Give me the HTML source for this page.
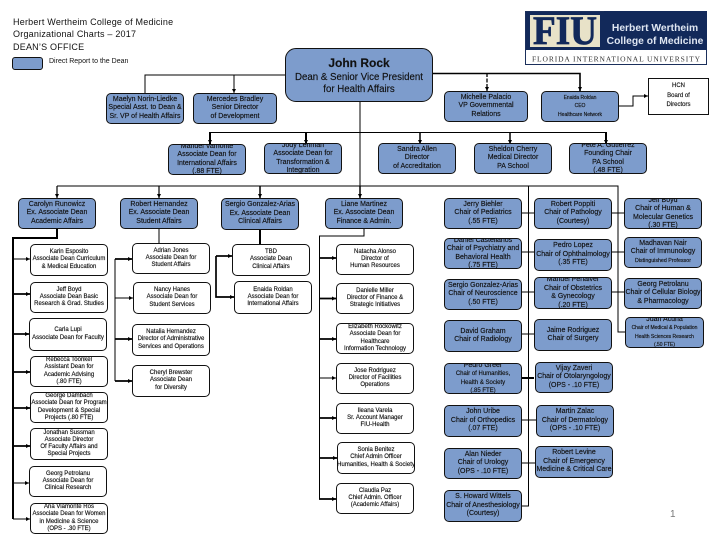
<!DOCTYPE html>
<html lang="en"><head><meta charset="utf-8"><title>Organizational Chart</title>
<style>
html,body{margin:0;padding:0;background:#fff}
#p{position:relative;width:720px;height:540px;overflow:hidden;background:#fff;font-family:"Liberation Sans",sans-serif;color:#111}
svg{position:absolute;left:0;top:0}
.b,.w{position:absolute;box-sizing:border-box;border:1px solid #111;border-radius:5px;display:flex;align-items:center;justify-content:center;text-align:center;overflow:hidden;white-space:nowrap;-webkit-text-stroke:.15px #111}
.b{background:#7d9ccc;font-size:7px;line-height:8.5px}
.w{background:#fff;font-size:6px;line-height:7.1px}
.t{position:absolute;white-space:nowrap}
.s{font-size:5px}
</style></head><body><div id="p">
<div class="t" style="left:13px;top:16px;font-size:9px;line-height:12.3px;letter-spacing:.22px">Herbert Wertheim College of Medicine<br>Organizational Charts – 2017<br>DEAN’S OFFICE</div>
<div class="b" style="left:12px;top:57px;width:31px;height:13px;border-radius:3px"></div>
<div class="t" style="left:49px;top:57px;font-size:7px;line-height:9px">Direct Report to the Dean</div>

<svg width="720" height="540" viewBox="0 0 720 540" fill="none" stroke="#000" stroke-width="1">
<defs><marker id="a" markerUnits="userSpaceOnUse" markerWidth="4" markerHeight="4" refX="4" refY="2" orient="auto"><path d="M0 0L4 2L0 4Z" fill="#000" stroke="none"/></marker></defs>
<path d="M285 75H145V93"/>
<path d="M234 75V93" marker-end="url(#a)"/>
<path d="M432 73.500H580V91" stroke-width="1.600" marker-end="url(#a)"/>
<path d="M487 73V91" stroke-width="1.300" stroke-dasharray="4 1.500" marker-end="url(#a)"/>
<path d="M618 106H633V96H648" marker-end="url(#a)"/>
<path d="M360 102V186"/>
<path d="M210 132.500H606"/>
<path d="M210 132V144" stroke-width="2" marker-end="url(#a)"/>
<path d="M306 132V144" stroke-width="2" marker-end="url(#a)"/>
<path d="M606 132V144" stroke-width="2" marker-end="url(#a)"/>
<path d="M420 132V144" stroke-width="1.500" marker-end="url(#a)"/>
<path d="M510 132V144" stroke-width="1.500" marker-end="url(#a)"/>
<path d="M57 186H618V332H625"/>
<path d="M57 186V198" stroke-width="1.200" marker-end="url(#a)"/>
<path d="M159 186V198" stroke-width="1.200" marker-end="url(#a)"/>
<path d="M260 186V198" stroke-width="1.500" marker-end="url(#a)"/>
<path d="M360 186V198" stroke-width="1.500" marker-end="url(#a)"/>
<path d="M57 228V238H13V519" stroke-width="2"/>
<path d="M13 259H30" marker-end="url(#a)"/>
<path d="M13 294H30" stroke-width="1.700" marker-end="url(#a)"/>
<path d="M13 334H29" stroke-width="1.700" marker-end="url(#a)"/>
<path d="M13 372H30" stroke-width="1.700" marker-end="url(#a)"/>
<path d="M13 408H30" stroke-width="1.700" marker-end="url(#a)"/>
<path d="M13 446H30" stroke-width="1.700" marker-end="url(#a)"/>
<path d="M13 483H29" marker-end="url(#a)"/>
<path d="M13 519H30" marker-end="url(#a)"/>
<path d="M159 228V243"/>
<path d="M115 259V381"/>
<path d="M115 259H132" stroke-width="1.700" marker-end="url(#a)"/>
<path d="M115 298H133" marker-end="url(#a)"/>
<path d="M115 339H132" stroke-width="1.700" marker-end="url(#a)"/>
<path d="M115 381H132" stroke-width="1.700" marker-end="url(#a)"/>
<path d="M260 229V244" stroke-width="2"/>
<path d="M216 256H232" stroke-width="1.700" marker-end="url(#a)"/>
<path d="M216 256V297H234" stroke-width="1.700" marker-end="url(#a)"/>
<path d="M364 228V236H319.500V499"/>
<path d="M319 258H336" stroke-width="1.700" marker-end="url(#a)"/>
<path d="M319 298.500H336" stroke-width="1.700" marker-end="url(#a)"/>
<path d="M319 339H336" stroke-width="1.700" marker-end="url(#a)"/>
<path d="M319 378H336" marker-end="url(#a)"/>
<path d="M319 418H336" stroke-width="1.700" marker-end="url(#a)"/>
<path d="M319 458H337" stroke-width="1.700" marker-end="url(#a)"/>
<path d="M319 499H336" stroke-width="1.700" marker-end="url(#a)"/>
<path d="M528.500 186V506H521"/>
<path d="M521 213H534M521 252H534M521 292H534M521 334H534M521 420H536M521 463H535"/>
<path d="M521 378H534" stroke-width="2"/>
<path d="M611 213H624M611 252H624M611 292H624"/>
</svg>

<div class="b" style="left:285px;top:48px;width:148px;height:54px;border-radius:11px;font-size:9.700px;line-height:12.500px;align-items:flex-start;padding-top:7px"><span><b style="font-size:12px;line-height:14px">John Rock</b><br>Dean &amp; Senior Vice President<br>for Health Affairs</span></div>

<div class="b" style="left:106px;top:93px;width:78px;height:31px">Maelyn Norin-Liedke<br>Special Asst. to Dean &amp;<br>Sr. VP of Health Affairs</div>
<div class="b" style="left:193px;top:93px;width:84px;height:31px">Mercedes Bradley<br>Senior Director<br>of Development</div>
<div class="b" style="left:444px;top:91px;width:84px;height:31px">Michelle Palacio<br>VP Governmental<br>Relations</div>
<div class="b s" style="left:541px;top:91px;width:78px;height:31px;line-height:8.500px">Enaida Roldan<br>CEO<br>Healthcare Network</div>
<div class="w" style="left:648px;top:78px;width:61px;height:37px;border-radius:0;line-height:9.500px">HCN<br>Board of<br>Directors</div>

<div class="b" style="left:168px;top:144px;width:78px;height:31px">Manuel Vamonte<br>Associate Dean for<br>International Affairs<br>(.88 FTE)</div>
<div class="b" style="left:264px;top:143px;width:78px;height:31px">Jody Lehman<br>Associate Dean for<br>Transformation &amp;<br>Integration</div>
<div class="b" style="left:378px;top:143px;width:78px;height:31px">Sandra Allen<br>Director<br>of Accreditation</div>
<div class="b" style="left:474px;top:143px;width:78px;height:31px">Sheldon Cherry<br>Medical Director<br>PA School</div>
<div class="b" style="left:569px;top:143px;width:78px;height:31px">Pete A. Gutierrez<br>Founding Chair<br>PA School<br>(.48 FTE)</div>

<div class="b" style="left:18px;top:198px;width:78px;height:31px">Carolyn Runowicz<br>Ex. Associate Dean<br>Academic Affairs</div>
<div class="b" style="left:120px;top:198px;width:78px;height:31px">Robert Hernandez<br>Ex. Associate Dean<br>Student Affairs</div>
<div class="b" style="left:221px;top:198px;width:78px;height:32px">Sergio Gonzalez-Arias<br>Ex. Associate Dean<br>Clinical Affairs</div>
<div class="b" style="left:325px;top:198px;width:78px;height:31px">Liane Martinez<br>Ex. Associate Dean<br>Finance &amp; Admin.</div>

<div class="w" style="left:30px;top:244px;width:78px;height:32px">Karin Esposito<br>Associate Dean Curriculum<br>&amp; Medical Education</div>
<div class="w" style="left:30px;top:282px;width:78px;height:31px">Jeff Boyd<br>Associate Dean Basic<br>Research &amp; Grad. Studies</div>
<div class="w" style="left:29px;top:318px;width:78px;height:33px">Carla Lupi<br>Associate Dean for Faculty</div>
<div class="w" style="left:30px;top:356px;width:78px;height:31px">Rebecca Toonkel<br>Assistant Dean for<br>Academic Advising<br>(.80 FTE)</div>
<div class="w" style="left:30px;top:392px;width:78px;height:31px">George Dambach<br>Associate Dean for Program<br>Development &amp; Special<br>Projects (.80 FTE)</div>
<div class="w" style="left:30px;top:428px;width:78px;height:32px">Jonathan Sussman<br>Associate Director<br>Of Faculty Affairs and<br>Special Projects</div>
<div class="w" style="left:29px;top:466px;width:78px;height:31px">Georg Petrolanu<br>Associate Dean for<br>Clinical Research</div>
<div class="w" style="left:30px;top:503px;width:78px;height:31px">Ana Viamonte Ros<br>Associate Dean for Women<br>in Medicine &amp; Science<br>(OPS - .30 FTE)</div>

<div class="w" style="left:132px;top:243px;width:78px;height:31px">Adrian Jones<br>Associate Dean for<br>Student Affairs</div>
<div class="w" style="left:133px;top:282px;width:78px;height:32px">Nancy Hanes<br>Associate Dean for<br>Student Services</div>
<div class="w" style="left:132px;top:324px;width:78px;height:32px">Natalia Hernandez<br>Director of Administrative<br>Services and Operations</div>
<div class="w" style="left:132px;top:365px;width:78px;height:32px">Cheryl Brewster<br>Associate Dean<br>for Diversity</div>

<div class="w" style="left:232px;top:244px;width:78px;height:32px">TBD<br>Associate Dean<br>Clinical Affairs</div>
<div class="w" style="left:234px;top:281px;width:78px;height:33px">Enaida Roldan<br>Associate Dean for<br>International Affairs</div>

<div class="w" style="left:336px;top:244px;width:78px;height:31px">Natacha Alonso<br>Director of<br>Human Resources</div>
<div class="w" style="left:336px;top:283px;width:78px;height:31px">Danielle Miller<br>Director of Finance &amp;<br>Strategic Initiatives</div>
<div class="w" style="left:336px;top:323px;width:78px;height:31px">Elizabeth Rockowitz<br>Associate Dean for<br>Healthcare<br>Information Technology</div>
<div class="w" style="left:336px;top:363px;width:78px;height:31px">Jose Rodriguez<br>Director of Facilities<br>Operations</div>
<div class="w" style="left:336px;top:403px;width:78px;height:31px">Ileana Varela<br>Sr. Account Manager<br>FIU-Health</div>
<div class="w" style="left:337px;top:442px;width:78px;height:32px">Sonia Benitez<br>Chief Admin Officer<br>(Humanities, Health &amp; Society)</div>
<div class="w" style="left:336px;top:483px;width:78px;height:31px">Claudia Paz<br>Chief Admin. Officer<br>(Academic Affairs)</div>

<div class="b" style="left:444px;top:198px;width:78px;height:31px">Jerry Biehler<br>Chair of Pediatrics<br>(.55 FTE)</div>
<div class="b" style="left:444px;top:238px;width:78px;height:31px">Daniel Castellanos<br>Chair of Psychiatry and<br>Behavioral Health<br>(.75 FTE)</div>
<div class="b" style="left:444px;top:279px;width:78px;height:31px">Sergio Gonzalez-Arias<br>Chair of Neuroscience<br>(.50 FTE)</div>
<div class="b" style="left:444px;top:320px;width:78px;height:32px">David Graham<br>Chair of Radiology</div>
<div class="b" style="left:444px;top:363px;width:78px;height:31px"><span>Pedro Greer<br><span style="font-size:6px">Chair of Humanities,<br>Health &amp; Society</span><br><span style="font-size:6px">(.85 FTE)</span></span></div>
<div class="b" style="left:444px;top:405px;width:78px;height:32px">John Uribe<br>Chair of Orthopedics<br>(.07 FTE)</div>
<div class="b" style="left:444px;top:448px;width:78px;height:31px">Alan Nieder<br>Chair of Urology<br>(OPS - .10 FTE)</div>
<div class="b" style="left:444px;top:490px;width:78px;height:32px">S. Howard Wittels<br>Chair of Anesthesiology<br>(Courtesy)</div>

<div class="b" style="left:534px;top:198px;width:78px;height:31px">Robert Poppiti<br>Chair of Pathology<br>(Courtesy)</div>
<div class="b" style="left:534px;top:239px;width:78px;height:32px">Pedro Lopez<br>Chair of Ophthalmology<br>(.35 FTE)</div>
<div class="b" style="left:534px;top:277px;width:78px;height:32px">Manuel Penalver<br>Chair of Obstetrics<br>&amp; Gynecology<br>(.20 FTE)</div>
<div class="b" style="left:534px;top:319px;width:78px;height:32px">Jaime Rodriguez<br>Chair of Surgery</div>
<div class="b" style="left:535px;top:362px;width:78px;height:31px">Vijay Zaveri<br>Chair of Otolaryngology<br>(OPS - .10 FTE)</div>
<div class="b" style="left:536px;top:405px;width:78px;height:32px">Martin Zalac<br>Chair of Dermatology<br>(OPS - .10 FTE)</div>
<div class="b" style="left:535px;top:446px;width:78px;height:32px">Robert Levine<br>Chair of Emergency<br>Medicine &amp; Critical Care</div>

<div class="b" style="left:624px;top:198px;width:78px;height:31px">Jeff Boyd<br>Chair of Human &amp;<br>Molecular Genetics<br>(.30 FTE)</div>
<div class="b" style="left:624px;top:237px;width:78px;height:31px"><span>Madhavan Nair<br>Chair of Immunology<br><span style="font-size:5.300px">Distinguished Professor</span></span></div>
<div class="b" style="left:624px;top:278px;width:78px;height:31px">Georg Petrolanu<br>Chair of Cellular Biology<br>&amp; Pharmacology</div>
<div class="b" style="left:625px;top:317px;width:79px;height:31px;font-size:5px"><span><span style="font-size:7px">Juan Acuna</span><br>Chair of Medical &amp; Population<br>Health Sciences Research<br>(.50 FTE)</span></div>

<svg width="720" height="540" viewBox="0 0 720 540">
<rect x="525.500" y="11.500" width="181" height="53" fill="#fff" stroke="#1b2f5b"/>
<rect x="526" y="12" width="78" height="38" fill="#12295a"/>
<rect x="530" y="15" width="70" height="32" fill="#e8e2c8"/>
<rect x="604" y="11" width="103" height="39" fill="#12295a"/>
<text x="565" y="44" text-anchor="middle" font-family="Liberation Serif" font-weight="bold" font-size="40" fill="#12295a" stroke="#12295a" stroke-width=".8" textLength="64" lengthAdjust="spacingAndGlyphs">FIU</text>
<text x="655" y="31" text-anchor="middle" font-family="Liberation Sans" font-weight="bold" font-size="10.300" fill="#dfe6f2">Herbert Wertheim</text>
<text x="655" y="44" text-anchor="middle" font-family="Liberation Sans" font-weight="bold" font-size="10.300" fill="#dfe6f2">College of Medicine</text>
<text x="616" y="61.500" text-anchor="middle" font-family="Liberation Serif" font-size="7.500" fill="#333" textLength="168" lengthAdjust="spacing">FLORIDA INTERNATIONAL UNIVERSITY</text>
</svg>

<div class="t" style="left:670px;top:508px;font-size:10px;line-height:13px;color:#777">1</div>
</div></body></html>
